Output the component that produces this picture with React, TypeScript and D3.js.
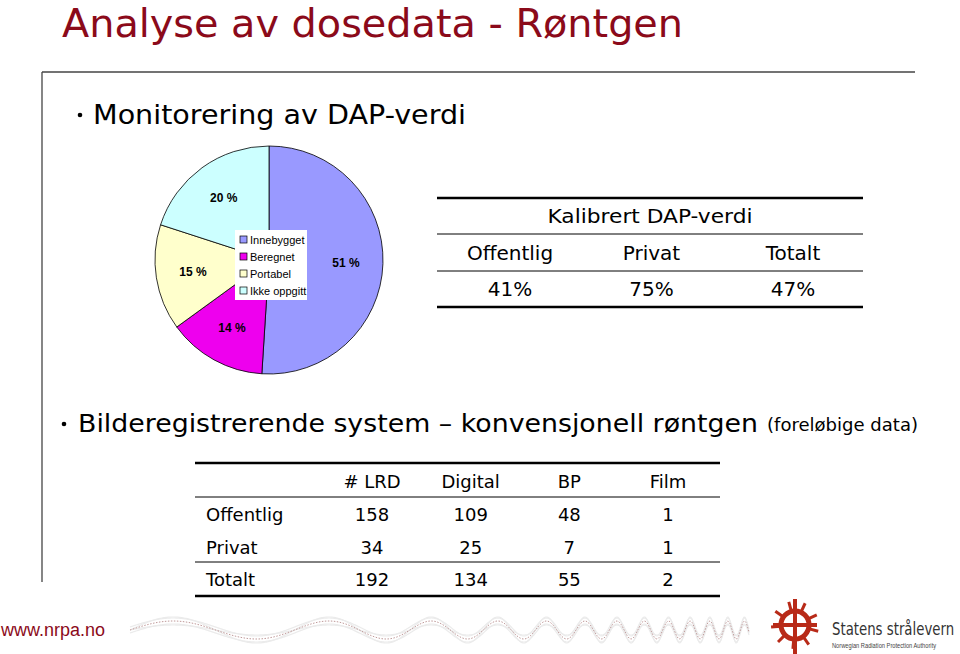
import React from "react";
import * as d3 from "d3";

const pieLabels = ["Innebygget", "Beregnet", "Portabel", "Ikke oppgitt"];
const pieValues = [51, 14, 15, 20];
const pieColors = ["#9999ff", "#ee00ee", "#ffffcc", "#ccffff"];

const dapHeaders = ["Offentlig", "Privat", "Totalt"];
const dapValues = ["41%", "75%", "47%"];

const lrdColumns = ["# LRD", "Digital", "BP", "Film"];
const lrdRows = ["Offentlig", "Privat", "Totalt"];
const lrdValues = [
  [158, 109, 48, 1],
  [34, 25, 7, 1],
  [192, 134, 55, 2],
];

const FONT = "'Comic Sans MS', 'DejaVu Sans', sans-serif";
const ARIAL = "'Liberation Sans', Arial, sans-serif";

function Wave() {
  const xs = d3.range(130, 750, 1);
  const x0 = 130, x1 = 750;
  const phase = (x: number) => {
    const t = (x - x0) / (x1 - x0);
    return 2 * Math.PI * (1.2 * t * 3 + 9 * Math.pow(t, 4)) + Math.PI;
  };
  const mk = (amp: number, dy: number) =>
    d3.line<number>().x((x) => x).y((x) => 630 + dy + amp * Math.sin(phase(x)))(xs) || "";
  return (
    <g>
      {[[-4, 0], [4, 0], [0, -3], [0, 3]].map(([a, dy], i) => (
        <path key={i} d={mk(9 + a, dy)} fill="none" stroke="#ebebeb" strokeWidth={1.2} />
      ))}
      <path d={mk(9, 0)} fill="none" stroke="#c09a9a" strokeWidth={1} strokeDasharray="1.5 1.5" />
    </g>
  );
}

function Logo() {
  const cx = 795, cy = 625, r = 14;
  const rays = d3.range(0, 360, 40);
  return (
    <g fill="#b82a18" stroke="#b82a18">
      {rays.map((a) => {
        const rad = ((a + 15) * Math.PI) / 180;
        return (
          <line key={a} x1={cx + r * Math.cos(rad)} y1={cy + r * Math.sin(rad)} x2={cx + (r + 10) * Math.cos(rad)} y2={cy + (r + 10) * Math.sin(rad)} strokeWidth={3} />
        );
      })}
      <circle cx={cx} cy={cy} r={r} fill="none" strokeWidth={5} />
      <line x1={cx} y1={cy - r - 12} x2={cx} y2={cy + r + 16} strokeWidth={4} />
      <line x1={cx - r - 8} y1={cy} x2={cx + r + 8} y2={cy} strokeWidth={4} />
      <text transform="translate(832,635) scale(0.87,1)" fontFamily="'DejaVu Sans Condensed', 'DejaVu Sans', sans-serif" fontSize={17} fill="#333" stroke="none">Statens strålevern</text>
      <text transform="translate(832,648) scale(0.88,1)" fontFamily={ARIAL} fontSize={6.5} fill="#444" stroke="none">Norwegian Radiation Protection Authority</text>
    </g>
  );
}

export default function App() {
  const cx = 269, cy = 260, R = 114;
  const pie = d3.pie<number>().sort(null).value((d) => d);
  const arcs = pie(pieValues);
  const arc = d3.arc<d3.PieArcDatum<number>>().innerRadius(0).outerRadius(R);
  const labelArc = d3.arc<d3.PieArcDatum<number>>().innerRadius(77).outerRadius(77);

  const dapX = d3.scalePoint<string>().domain(dapHeaders).range([510, 793]);
  const colX = d3.scalePoint<string>().domain(lrdColumns).range([372, 668]);
  const rowY = d3.scalePoint<string>().domain(lrdRows).range([521, 586]);

  return (
    <svg width={960} height={654} style={{ position: "absolute", left: 0, top: 0, background: "#fff" }}>
      <rect width={960} height={654} fill="#fff" />
      <text x={62} y={37} fontFamily={FONT} fontSize={39} fill="#8b0a1a" textLength={621} lengthAdjust="spacingAndGlyphs">
        Analyse av dosedata - Røntgen
      </text>
      <line x1={42} y1={72} x2={915} y2={72} stroke="#444" strokeWidth={1.3} />
      <line x1={42} y1={72} x2={42} y2={582} stroke="#444" strokeWidth={1.3} />

      <circle cx={80} cy={115} r={2.3} fill="#000" />
      <text x={93} y={124} fontFamily={FONT} fontSize={27} fill="#000" textLength={373} lengthAdjust="spacingAndGlyphs">
        Monitorering av DAP-verdi
      </text>

      <g transform={`translate(${cx},${cy})`}>
        {arcs.map((a, i) => (
          <path key={i} d={arc(a) || ""} fill={pieColors[i]} stroke="#000" strokeWidth={0.8} />
        ))}
        {arcs.map((a, i) => {
          const [lx, ly] = labelArc.centroid(a);
          return (
            <text key={i} x={lx} y={ly} dy="0.35em" textAnchor="middle" fontFamily={ARIAL} fontWeight="bold" fontSize={12} fill="#000">
              {`${pieValues[i]} %`}
            </text>
          );
        })}
      </g>
      <g>
        <rect x={235} y={230} width={72} height={70} fill="#fff" stroke="none" />
        {pieLabels.map((l, i) => (
          <g key={l} transform={`translate(240,${240 + i * 17})`}>
            <rect x={0} y={-4} width={7} height={7} fill={pieColors[i]} stroke="#000" strokeWidth={0.7} />
            <text x={10} y={0} dy="0.35em" fontFamily={ARIAL} fontSize={11} fill="#000">{l}</text>
          </g>
        ))}
      </g>

      <g fontFamily={FONT} fill="#000">
        <line x1={437} y1={198} x2={863} y2={198} stroke="#000" strokeWidth={2.5} />
        <line x1={437} y1={234} x2={863} y2={234} stroke="#000" strokeWidth={1} />
        <line x1={437} y1={271} x2={863} y2={271} stroke="#000" strokeWidth={1} />
        <line x1={437} y1={307} x2={863} y2={307} stroke="#000" strokeWidth={2.5} />
        <text x={650} y={223} textAnchor="middle" fontSize={20} textLength={205} lengthAdjust="spacingAndGlyphs">Kalibrert DAP-verdi</text>
        {dapHeaders.map((h, i) => (
          <g key={h}>
            <text x={dapX(h)} y={260} textAnchor="middle" fontSize={20}>{h}</text>
            <text x={dapX(h)} y={296} textAnchor="middle" fontSize={20}>{dapValues[i]}</text>
          </g>
        ))}
      </g>

      <circle cx={64} cy={424} r={2.3} fill="#000" />
      <text x={78} y={432} fontFamily={FONT} fontSize={25} fill="#000" textLength={680} lengthAdjust="spacingAndGlyphs">
        Bilderegistrerende system – konvensjonell røntgen
      </text>
      <text x={767} y={431} fontFamily={FONT} fontSize={17} fill="#000" textLength={151} lengthAdjust="spacingAndGlyphs">
        (foreløbige data)
      </text>

      <g fontFamily={FONT} fill="#000" fontSize={18}>
        <line x1={195} y1={463} x2={720} y2={463} stroke="#000" strokeWidth={2.5} />
        <line x1={195} y1={497} x2={720} y2={497} stroke="#000" strokeWidth={1} />
        <line x1={195} y1={562} x2={720} y2={562} stroke="#000" strokeWidth={1} />
        <line x1={195} y1={596} x2={720} y2={596} stroke="#000" strokeWidth={2.5} />
        {lrdColumns.map((c) => (
          <text key={c} x={colX(c)} y={488} textAnchor="middle">{c}</text>
        ))}
        {lrdRows.map((r, ri) => (
          <g key={r}>
            <text x={206} y={rowY(r)} textAnchor="start">{r}</text>
            {lrdColumns.map((c, ci) => (
              <text key={c} x={colX(c)} y={rowY(r)} textAnchor="middle">{lrdValues[ri][ci]}</text>
            ))}
          </g>
        ))}
      </g>

      <text x={1} y={636} fontFamily={ARIAL} fontSize={18} fill="#8b0a1a" textLength={104} lengthAdjust="spacingAndGlyphs">www.nrpa.no</text>
      <Wave />
      <Logo />
    </svg>
  );
}
